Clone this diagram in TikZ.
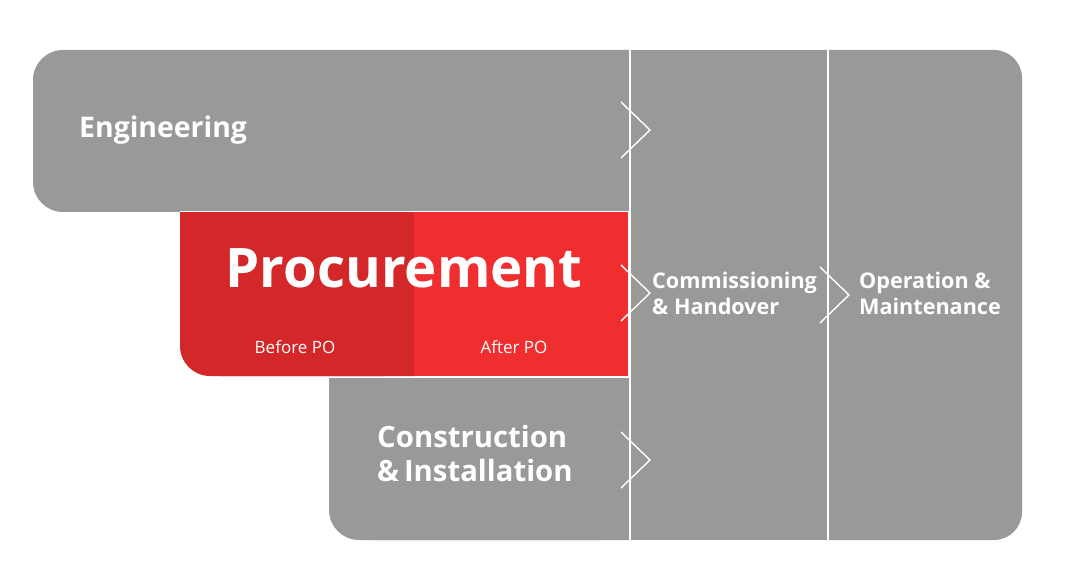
\documentclass[tikz,border=0pt]{standalone}
\usepackage{fontspec}
\setmainfont{Open Sans}
\definecolor{band}{RGB}{153,153,153}
\definecolor{redA}{RGB}{211,39,41}
\definecolor{redB}{RGB}{240,46,48}
\tikzset{
	stage/.style={text=white,font=\bfseries\fontsize{28.4}{34}\selectfont,align=left,anchor=west,inner sep=0pt},
	big stage/.style={stage,font=\bfseries\fontsize{29.3}{34}\selectfont},
	small stage/.style={stage,font=\bfseries\fontsize{21.6}{26}\selectfont},
	sub/.style={text=white,font=\fontsize{17}{20}\selectfont,inner sep=0pt},
	chev/.style={white,line width=1.4pt},
	sep/.style={white,line width=1.5pt}
}
\begin{document}
\begin{tikzpicture}[x=1pt,y=-1pt]
	\useasboundingbox (0,0) rectangle (1076,585);
	% grey bands
	\fill[band,rounded corners=30] (632,50) -- (33,50) -- (33,212) -- (632,212);
	\fill[band] (630,50) rectangle (828,540);
	\fill[band,rounded corners=28] (826,50) -- (1022,50) -- (1022,540) -- (826,540);
	\fill[band,rounded corners=30] (329,378) rectangle (632,540);
	\fill[band] (329,378) rectangle (632,500) (370,378) rectangle (632,540);
	% procurement, before and after PO
	\fill[redA,rounded corners=30] (180,212) rectangle (414,376);
	\fill[redA] (180,212) rectangle (414,340) (220,212) rectangle (414,376);
	\fill[redB] (414,212) rectangle (628,376);
	% separators
	\draw[sep] (630,50) -- (630,540) (828,50) -- (828,540);
	\draw[sep,line width=1pt] (180,212) -- (630,212) (329,377) -- (630,377);
	\foreach \y in {130,293,460} \draw[chev] (621,\y-28) -- (650,\y) -- (621,\y+28);
	\draw[chev] (820,267) -- (849,295) -- (820,323);
	\path
	(79,130) node[stage] (eng) {Engineering}
	(404,268) node[text=white,font=\bfseries\fontsize{54.5}{60}\selectfont,inner sep=0pt] (proc) {Procurement}
	(295,347) node[sub] (before) {Before PO}
	(514,347) node[sub] (after) {After PO}
	(377,454) node[big stage] (cons) {Construction\\\&\,Installation}
	(652,293) node[small stage] (comm) {Commissioning\\\& Handover}
	(859,293) node[small stage] (oper) {Operation \&\\Maintenance}
	;
\end{tikzpicture}
\end{document}
